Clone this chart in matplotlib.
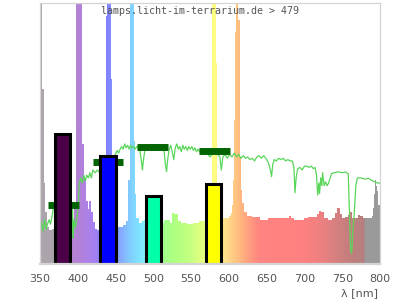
import numpy as np
import matplotlib
matplotlib.use("Agg")
import matplotlib.pyplot as plt
from matplotlib.colors import LinearSegmentedColormap

# ---- lamp spectrum (relative, % of plot height), value holds until next wavelength ----
spec_wl = [350, 352.5, 353, 355, 357, 359, 362, 366, 370, 380, 385, 390, 393, 395.5,
           397, 404.5, 406, 408.5, 411, 413, 415, 417.5, 420, 423, 426, 430, 436,
           438, 439, 443, 444, 445.5, 448, 451, 455, 460, 463.5, 466, 467, 468.5,
           473.5, 474, 475.5, 477.5, 481, 485, 488, 492, 500, 508, 511, 514,
           520, 522, 525, 528, 532, 536, 545, 553, 560, 566, 570, 575, 576, 577,
           582, 583, 584, 586, 590, 597, 600, 603, 604, 605.5, 606.5, 607.5, 609,
           612.7, 614.4, 616.3, 618, 620.6, 623.7, 630, 638, 641, 648, 652, 670, 675,
           679, 682, 686, 696, 700, 705, 712, 716, 719, 722, 726, 731, 736, 740, 743,
           747, 750, 754, 757, 760, 763, 767, 771, 774, 778, 787, 789, 790.5,
           792.5, 793.5, 795, 796.5, 798, 800]
spec_val = [110, 110, 67, 31, 20, 14, 13, 13.5, 13, 13, 14, 15.5, 17, 21,
            110, 110, 46, 33, 24, 21, 24, 20, 16, 13.5, 13, 14, 15,
            95, 110, 110, 71, 20, 15, 14.3, 14, 14.8, 16.5, 21.8, 32, 110,
            110, 47, 27, 17.6, 15.7, 16.5, 16.9, 17, 17, 16.5, 15.7, 16.9,
            16.9, 15.7, 19.5, 19, 16.5, 15.6, 15.3, 15.8, 16.3, 16.5, 17, 18, 25, 110,
            110, 77, 25, 19, 17.6, 17.6, 18.5, 19.5, 22.6, 32, 55, 89, 110,
            93.5, 41, 28.4, 23.4, 20, 18.5, 18.1, 18, 16.9, 16.9, 17.5, 17.5, 17.5,
            18.4, 17.5, 16.9, 16.9, 17.5, 17.9, 18, 19, 20.3, 20, 17.5, 16.9, 17.5, 19.5, 21.3,
            19, 17.5, 18, 18.8, 20, 17.5, 17.5, 18.8, 18.5, 17.5, 17.5, 18.5, 21.4,
            27, 32, 30, 28, 22.6, 19.5]

# ---- reference (daylight) spectrum ----
ref_wl = [352, 354, 356, 358, 360, 362, 364, 366, 368, 370, 391, 392, 393, 394, 395,
          397, 399, 401, 402, 404, 406, 408, 410, 412, 414, 416, 418, 420, 423, 426,
          429, 450, 452, 454, 456, 458, 460, 462, 464, 466, 468, 470, 472, 474, 476,
          478, 480, 482, 484, 485.5, 487, 489, 492, 514, 516, 517.5, 519, 521, 523,
          525, 527, 529, 531, 533, 535, 537, 539, 541, 543, 545, 547, 549, 551, 553,
          555, 557, 559, 561, 563, 566, 570, 575, 580, 585, 588, 590, 592, 595, 598,
          601, 604, 607, 610, 613, 616, 619, 622, 625, 628, 631, 634, 637, 640, 643,
          646, 649, 652, 655, 656.5, 658, 660, 663, 666, 669, 672, 675, 678, 681, 684,
          686, 687.5, 689, 691, 694, 697, 700, 703, 706, 709, 712, 714, 716, 717.5,
          719, 720, 721.5, 723, 724, 726, 728, 730, 732, 734, 736, 740, 745, 750, 755,
          758, 759.5, 761, 762.5, 764, 766, 768, 770, 775, 780, 785, 789, 793, 797, 800]
ref_val = [15.6, 12.6, 17, 13.4, 15.3, 17, 15.3, 18.4, 22, 23, 20, 12, 22, 10, 17,
           14, 18, 24, 31, 33, 31, 34, 32, 34, 33, 35, 33, 36, 35, 36,
           35, 42, 43.5, 42.5, 44, 45, 44, 46, 44.5, 45.5, 44, 45.5, 44.5, 45, 44,
           45, 44.5, 44, 40, 36, 40, 44, 45, 44, 38, 35.4, 40, 44, 45.5,
           43, 40, 44.5, 46, 44, 45, 43, 45.5, 44, 45, 43.5, 45, 44, 45, 43.5,
           44.5, 43, 44, 43, 44, 42.5, 43, 41, 43, 42, 41, 36, 41, 42, 40.5,
           42, 41, 42.5, 41, 42, 40.5, 41.5, 40.5, 41, 40, 40.5, 39.5, 41, 41.5, 40.5,
           41.5, 40.5, 39, 36, 33.5, 38, 40, 39.5, 40.5, 40, 40.5, 39.5, 40, 39.5, 39.5,
           37, 27.3, 33, 36.5, 37, 36, 37.5, 37.5, 37, 37.5, 36.5, 37, 34, 26.4,
           31, 27, 33, 30, 35, 30, 31.5, 30, 31, 33, 34.7, 35, 35.3, 35, 35.2,
           34.5, 20, 6, 4, 12, 20, 30, 33, 33, 32.5, 32.8, 32, 31.5, 31, 31]

# ---- bars ----
bar_start = [370, 430, 490, 570]
bar_width = [20, 20, 20, 20]
bar_height = [49.9, 41.4, 26.0, 30.6]
bar_colors = ['#4b0048', '#0000ff', '#00ffa8', '#ffff00']

# ---- dark green level segments ----
seg_lo = [361, 420, 478, 560]
seg_hi = [402, 460, 519, 601]
seg_y = [22.5, 39.0, 44.7, 43.2]

xticks = [350, 400, 450, 500, 550, 600, 650, 700, 750, 800]

# colour of the spectrum fill along wavelength
stops = [(350, '#aca4ac'), (379.9, '#aca4ac'), (380, '#b88cd0'), (400, '#b482d6'),
         (420, '#a880f0'), (438, '#8080ff'), (455, '#88a4ff'), (470, '#80d0ff'),
         (487, '#80ecff'), (500, '#88ffc8'), (512, '#a0ff8c'), (530, '#b0ff80'),
         (550, '#c8ff80'), (565, '#e4ff80'), (580, '#ffff80'), (595, '#ffe08c'),
         (605, '#ffcc84'), (612, '#ffc080'), (622, '#ffa880'), (640, '#ff8480'),
         (700, '#ff8080'), (720, '#f08080'), (740, '#d88080'), (760, '#c47e7e'),
         (779.9, '#b48080'), (780, '#9a9a9a'), (800, '#9a9a9a')]
cmap = LinearSegmentedColormap.from_list(
    'spec', [((w - 350) / 450, c) for w, c in stops], N=1024)

fig = plt.figure(figsize=(4, 3), dpi=100)
ax = fig.add_axes([40 / 400, 36 / 300, 340 / 400, 261 / 300])
ax.set_xlim(350, 800)
ax.set_ylim(0, 100)

grad = np.linspace(0, 1, 1024)[None, :]
im = ax.imshow(grad, extent=(350, 800, 0, 100), aspect='auto', cmap=cmap,
               origin='lower', zorder=1, interpolation='bilinear')
poly = ax.fill_between(spec_wl, 0, spec_val, step='post',
                       facecolor='none', edgecolor='none')
im.set_clip_path(poly.get_paths()[0], ax.transData)

ax.plot(ref_wl, ref_val, color='#5ad65a', lw=0.9, zorder=2)
ax.hlines(seg_y, seg_lo, seg_hi, colors='#006400', linewidth=5, zorder=3)
ax.bar(bar_start, bar_height, width=bar_width, align='edge',
       color=bar_colors, edgecolor='black', linewidth=2.2, zorder=4)

for s in ax.spines.values():
    s.set_color('#d4d4d4')
    s.set_linewidth(0.9)
    s.set_zorder(5)
ax.spines['bottom'].set_linewidth(1.6)

ax.set_xticks(xticks)
ax.set_yticks([])
ax.tick_params(axis='x', length=0, pad=7.5, labelsize=8, labelcolor='#555555')
fig.text(378 / 400, 1 - 293 / 300, 'λ [nm]', ha='right', va='center',
         fontsize=8, color='#555555')

fig.text(0.5, 1 - 11 / 300, 'lamps.licht-im-terrarium.de > 479', ha='center',
         va='center', fontsize=7.2, family='DejaVu Sans Mono', color='#555555',
         zorder=10)

fig.savefig('out.png', dpi=100)
